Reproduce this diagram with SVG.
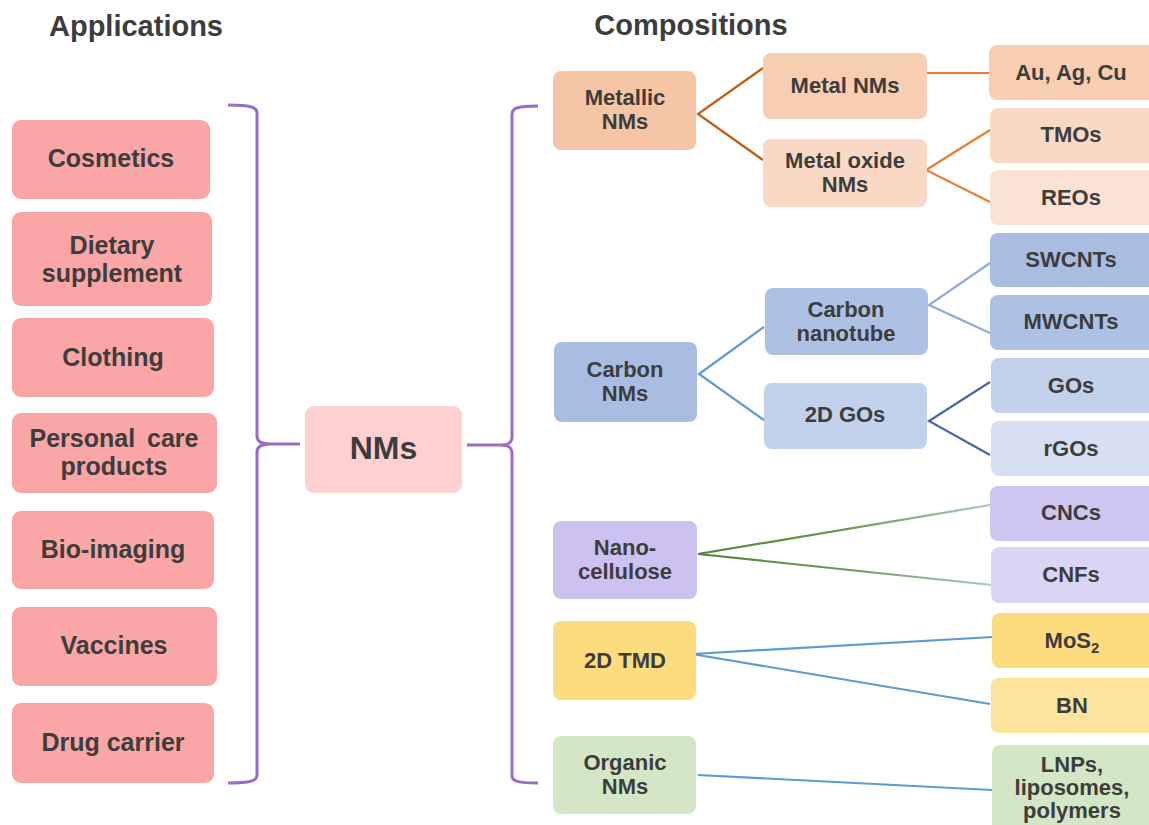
<svg xmlns="http://www.w3.org/2000/svg" width="1149" height="825" viewBox="0 0 1149 825">
<defs>
<style>
text{font-family:"Liberation Sans",Arial,sans-serif;font-weight:bold;fill:#3d3d3d;text-anchor:middle}
.title{font-size:29px}
.app{font-size:25px}
.c{font-size:22px}
.big{font-size:32px}
.brace{fill:none;stroke:#9b6bc9;stroke-width:3}
.ln{fill:none;stroke-width:2.2}
</style>
<linearGradient id="gNC" x1="0" y1="0" x2="1" y2="0">
<stop offset="0" stop-color="#548235"/>
<stop offset="0.5" stop-color="#6c9a55"/>
<stop offset="1" stop-color="#a9cbbf"/>
</linearGradient>
</defs>
<rect width="1149" height="825" fill="#ffffff"/>

<text class="title" x="136" y="36">Applications</text>
<text class="title" x="691" y="35">Compositions</text>

<g id="connectors">
<path class="brace" d="M228,105 C250,105 257,107 257,113 L257,436 C257,442 262,444 270,444 L300,444 M270,444 C262,444 257,446 257,452 L257,775 C257,781 250,783 228,783"/>
<path class="brace" d="M538,106 C518,106 512,108 512,114 L512,437 C512,443 508,445 500,445 L467,445 M500,445 C508,445 512,447 512,453 L512,776 C512,781 518,783 538,783"/>
<path class="ln" stroke="#c55a11" d="M763,68 L698,114 L763,160"/>
<path class="ln" stroke="#ed7d31" d="M927,73 L989,73"/>
<path class="ln" stroke="#ed7d31" d="M990,130 L926,170 L990,202"/>
<path class="ln" stroke="#5b9bd5" d="M764,327 L699,374 L764,420"/>
<path class="ln" stroke="#8eaadb" d="M990,263 L929,305 L990,333"/>
<path class="ln" stroke="#4468a8" d="M990,382 L929,421 L990,455"/>
<path class="ln" stroke="url(#gNC)" d="M990,505 L698,554 L992,585"/>
<path class="ln" stroke="#5b9bd5" d="M993,637 L692,654 L990,704"/>
<path class="ln" stroke="#5b9bd5" d="M698,775 L992,790"/>
</g>

<g id="cosmetics"><rect x="12" y="120" width="198" height="79" rx="9" fill="#faa6a6"/><text class="app" x="111" y="167">Cosmetics</text></g>
<g id="dietary"><rect x="12" y="212" width="200" height="94" rx="9" fill="#faa6a6"/><text class="app" x="112" y="254">Dietary</text><text class="app" x="112" y="282">supplement</text></g>
<g id="clothing"><rect x="12" y="318" width="202" height="79" rx="9" fill="#faa6a6"/><text class="app" x="113" y="366">Clothing</text></g>
<g id="personal"><rect x="12" y="413" width="205" height="80" rx="9" fill="#faa6a6"/><text class="app" x="114" y="447" word-spacing="5">Personal care</text><text class="app" x="114" y="475">products</text></g>
<g id="bioimaging"><rect x="12" y="511" width="202" height="78" rx="9" fill="#faa6a6"/><text class="app" x="113" y="558">Bio-imaging</text></g>
<g id="vaccines"><rect x="12" y="607" width="205" height="79" rx="9" fill="#faa6a6"/><text class="app" x="114" y="654">Vaccines</text></g>
<g id="drug"><rect x="12" y="703" width="202" height="80" rx="9" fill="#faa6a6"/><text class="app" x="113" y="751">Drug carrier</text></g>

<g id="nms"><rect x="305" y="406" width="157" height="87" rx="9" fill="#ffd0d0"/><text class="big" x="383.5" y="459">NMs</text></g>

<g id="metallic"><rect x="553" y="71" width="143" height="79" rx="8" fill="#f5c5a5"/><text class="c" x="625" y="105">Metallic</text><text class="c" x="625" y="129">NMs</text></g>
<g id="carbon"><rect x="554" y="342" width="143" height="80" rx="8" fill="#a9bde3"/><text class="c" x="625" y="377">Carbon</text><text class="c" x="625" y="401">NMs</text></g>
<g id="nanocellulose"><rect x="553" y="521" width="144" height="78" rx="8" fill="#cdc1f1"/><text class="c" x="625" y="555">Nano-</text><text class="c" x="625" y="579">cellulose</text></g>
<g id="tmd"><rect x="553" y="621" width="143" height="79" rx="8" fill="#fddc80"/><text class="c" x="625" y="668">2D TMD</text></g>
<g id="organic"><rect x="553" y="736" width="143" height="78" rx="8" fill="#d3e6c6"/><text class="c" x="625" y="770">Organic</text><text class="c" x="625" y="794">NMs</text></g>

<g id="metalnms"><rect x="763" y="53" width="164" height="66" rx="8" fill="#f7ceb2"/><text class="c" x="845" y="93">Metal NMs</text></g>
<g id="metaloxide"><rect x="763" y="139" width="164" height="68" rx="8" fill="#f9d9c5"/><text class="c" x="845" y="168">Metal oxide</text><text class="c" x="845" y="192">NMs</text></g>
<g id="nanotube"><rect x="765" y="288" width="163" height="67" rx="8" fill="#adc1e5"/><text class="c" x="846" y="317">Carbon</text><text class="c" x="846" y="341">nanotube</text></g>
<g id="gos2d"><rect x="764" y="383" width="163" height="66" rx="8" fill="#c2d1ec"/><text class="c" x="845" y="422">2D GOs</text></g>

<g id="auagcu"><rect x="989" y="45" width="175" height="55" rx="8" fill="#f7ceb2"/><text class="c" x="1071" y="80">Au, Ag, Cu</text></g>
<g id="tmos"><rect x="990" y="108" width="175" height="55" rx="8" fill="#f9d9c5"/><text class="c" x="1071" y="142">TMOs</text></g>
<g id="reos"><rect x="990" y="170" width="175" height="55" rx="8" fill="#fbe2d5"/><text class="c" x="1071" y="205">REOs</text></g>
<g id="swcnts"><rect x="990" y="233" width="175" height="54" rx="8" fill="#a9bde3"/><text class="c" x="1071" y="267">SWCNTs</text></g>
<g id="mwcnts"><rect x="990" y="295" width="175" height="55" rx="8" fill="#adc1e5"/><text class="c" x="1071" y="329">MWCNTs</text></g>
<g id="gos"><rect x="991" y="358" width="175" height="55" rx="8" fill="#c2d1ec"/><text class="c" x="1071" y="393">GOs</text></g>
<g id="rgos"><rect x="991" y="421" width="175" height="55" rx="8" fill="#d6e0f2"/><text class="c" x="1071" y="456">rGOs</text></g>
<g id="cncs"><rect x="990" y="486" width="175" height="55" rx="8" fill="#cfc5f1"/><text class="c" x="1071" y="520">CNCs</text></g>
<g id="cnfs"><rect x="991" y="547" width="175" height="56" rx="8" fill="#dcd4f5"/><text class="c" x="1071" y="582">CNFs</text></g>
<g id="mos2"><rect x="992" y="613" width="175" height="55" rx="8" fill="#fddc80"/><text class="c" x="1072" y="648">MoS<tspan font-size="15" dy="5">2</tspan></text></g>
<g id="bn"><rect x="991" y="678" width="175" height="55" rx="8" fill="#fde39b"/><text class="c" x="1072" y="713">BN</text></g>
<g id="lnps"><rect x="992" y="745" width="175" height="95" rx="8" fill="#d3e6c6"/><text class="c" x="1072" y="772">LNPs,</text><text class="c" x="1072" y="795">liposomes,</text><text class="c" x="1072" y="818">polymers</text></g>
</svg>
